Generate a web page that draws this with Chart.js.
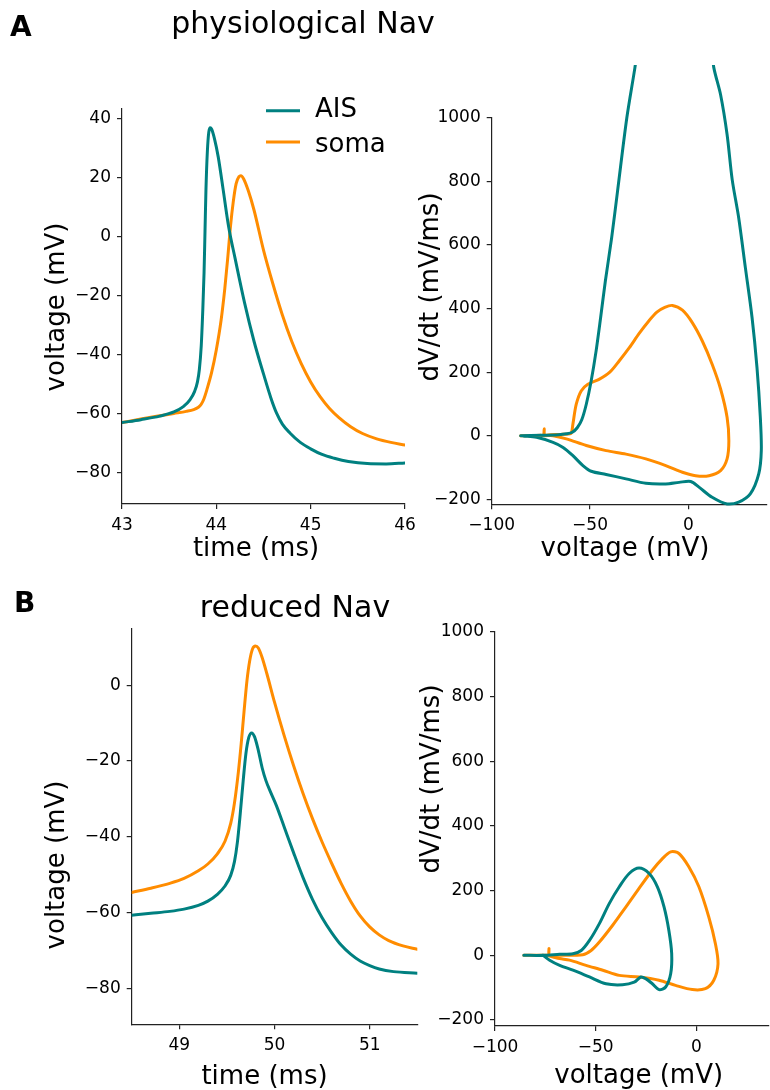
<!DOCTYPE html>
<html><head><meta charset="utf-8">
<script src="https://cdn.jsdelivr.net/npm/chart.js@4/dist/chart.umd.min.js"></script>
<style>
html,body{margin:0;padding:0;background:#fff;}
#wrap{position:relative;width:770px;height:1090px;overflow:hidden;background:#fff;}
canvas{position:absolute;left:0;top:0;}
</style></head><body><div id="wrap">
<canvas id="cA1" width="770" height="1090"></canvas>
<canvas id="cA2" width="770" height="1090"></canvas>
<canvas id="cB1" width="770" height="1090"></canvas>
<canvas id="cB2" width="770" height="1090"></canvas>
</div>
<script>
const TEAL = '#008080', ORANGE = '#ff8c00';
const SERIES = ['AIS', 'soma'];

// ---- Panel A, voltage vs time ----
const A_AIS_T  = [43.0,43.2,43.4,43.55,43.65,43.72,43.77,43.80,43.82,43.84,43.855,43.87,43.88,43.89,43.905,43.92,43.935,43.95,43.98,44.02,44.07,44.13,44.2,44.3,44.4,44.5,44.58,44.64,44.7,44.78,44.89,45.0,45.12,45.25,45.4,45.6,45.8,46.0];
const A_AIS_V  = [-63.0,-62.0,-60.8,-59.4,-57.6,-55.3,-52.4,-49.2,-45.0,-37.0,-26,-12,2,16,29,35.5,37.0,36.5,33.3,27.1,16.5,3.5,-7.5,-22.5,-35.5,-46.5,-54.8,-59.9,-63.5,-66.5,-69.7,-71.9,-73.8,-75.1,-76.2,-76.9,-77.0,-76.7];
const A_SOMA_T = [43.0,43.2,43.4,43.55,43.68,43.76,43.81,43.84,43.87,43.9,43.95,44.0,44.05,44.09,44.12,44.15,44.18,44.21,44.24,44.26,44.29,44.34,44.40,44.5,44.6,44.7,44.8,44.9,45.0,45.1,45.2,45.3,45.42,45.55,45.7,45.85,46.0];
const A_SOMA_V = [-63,-61.8,-60.7,-59.9,-59.2,-58.6,-57.8,-56.8,-54.8,-51.8,-46.0,-38.3,-28.4,-17.5,-7.5,3.5,12.0,18.0,20.4,20.7,19.6,15.5,9.0,-4.5,-16.0,-26.5,-35.5,-43.0,-49.2,-54.2,-58.2,-61.3,-64.3,-66.7,-68.5,-69.7,-70.6];

// ---- Panel A, phase plot (dV/dt vs V) ----
const A_AIS_PV  = [-85.3,-75,-66,-62,-59,-56.5,-54.2,-51.9,-49.4,-46.9,-44.6,-42.2,-39.0,-36.0,-31.3,-27.2,-25.5,-6,11.5,13.0,16.4,19.7,22.3,25.6,29.0,32.4,34.9,36.6,37.1,35.8,31.5,25.6,19.7,12.1,5.4,1.2,-4.7,-11.5,-21.6,-31.7,-41.8,-49.4,-53.6,-58.7,-63.7,-68.8,-77.2,-84];
const A_AIS_DV  = [0,1,3,6,11,25,50,99,173,267,372,487,623,770,1000,1157,1230,1800,1230,1157,1073,948,806,686,529,372,215,58,-47,-120,-183,-209,-215,-194,-162,-144,-147,-152,-150,-136,-122,-112,-94,-63,-37,-21,-5,-1];
const A_SOMA_PV = [-85.3,-80,-75,-73.6,-73.3,-73.0,-70,-65,-61,-59.5,-58.7,-57.0,-54.5,-51.1,-45.2,-40.1,-35.1,-30.0,-25.0,-20.0,-16.0,-12.0,-8.1,-3.0,2.0,7.1,12.1,16.4,19.7,20.6,19.7,16.4,10.5,3.7,-3.0,-11.5,-21.6,-31.7,-41.8,-51.9,-62,-68.8,-73];
const A_SOMA_DV = [0,0,1,2,22,2,3,4,5,8,37,99,141,162,178,199,236,277,322,362,389,404,410,395,356,298,225,147,58,-16,-73,-110,-126,-126,-115,-94,-73,-58,-47,-31,-10,0,0];

// ---- Panel B, voltage vs time ----
const B_AIS_T  = [48.5,48.7,48.9,49.05,49.2,49.3,49.4,49.48,49.54,49.58,49.61,49.64,49.67,49.70,49.73,49.76,49.79,49.83,49.87,49.91,49.96,50.02,50.1,50.2,50.3,50.4,50.5,50.6,50.7,50.8,50.9,51.0,51.1,51.25,51.5];
const B_AIS_V  = [-60.7,-60.2,-59.7,-59.1,-58.1,-57.0,-55.2,-53.0,-50.2,-46.5,-41.5,-34.0,-25.5,-18.0,-13.8,-12.6,-13.6,-17.2,-21.8,-25.2,-28.3,-31.8,-37.3,-44.2,-50.8,-56.6,-61.4,-65.3,-68.6,-71.0,-72.8,-74.0,-74.9,-75.6,-76.0];
const B_SOMA_T = [48.5,48.7,48.9,49.05,49.2,49.3,49.4,49.48,49.54,49.58,49.62,49.65,49.68,49.71,49.74,49.77,49.80,49.83,49.87,49.92,50.0,50.1,50.2,50.3,50.4,50.5,50.6,50.7,50.8,50.9,51.0,51.1,51.2,51.35,51.5];
const B_SOMA_V = [-54.7,-53.6,-52.3,-51.0,-49.0,-47.2,-44.5,-41.2,-36.5,-31.0,-23.0,-15.5,-7.0,1.0,6.5,9.6,10.3,9.8,7.3,3.0,-4.5,-13.2,-21.2,-28.6,-35.3,-41.4,-47.0,-52.3,-57.0,-60.9,-63.8,-65.9,-67.4,-68.8,-69.7];

// ---- Panel B, phase plot ----
const B_AIS_PV  = [-85.7,-76.2,-67.9,-61.3,-57.2,-53.1,-48.2,-43.3,-38.3,-33.4,-28.5,-23.5,-19.4,-16.1,-13.7,-12.3,-12.8,-15.3,-18.6,-21.9,-25.2,-27.6,-30.9,-36.7,-44.9,-53.1,-61.3,-67.9,-72.9,-76.2];
const B_AIS_DV  = [0,0,3,5,15,46,98,160,212,253,270,253,212,150,77,5,-57,-98,-106,-88,-72,-67,-83,-91,-88,-67,-46,-31,-15,0];
const B_SOMA_PV = [-85.7,-74.5,-73.4,-73.2,-73.0,-67.9,-56.4,-52.3,-48.2,-41.6,-35.0,-28.5,-21.9,-16.9,-12.8,-8.7,-3.8,1.2,6.1,9.4,10.7,8.6,4.4,-2.1,-10.4,-18.6,-28.5,-38.3,-46.5,-54.8,-63.0,-67.9,-71.2,-74.5];
const B_SOMA_DV = [0,0,1,21,1,0,2,15,41,93,150,207,263,299,320,315,274,212,119,36,-26,-77,-103,-106,-93,-77,-67,-62,-46,-31,-15,-10,-5,0];

// ---- axes ranges and ticks ----
const A_T_RANGE = [43, 46],   A_T_TICKS = [43, 44, 45, 46];
const A_V_RANGE = [-90.6, 43.5], A_V_TICKS = [-80, -60, -40, -20, 0, 20, 40];
const A_PV_RANGE = [-100, 40], PV_TICKS = [-100, -50, 0];
const A_DV_RANGE = [-216, 1000], DV_TICKS = [-200, 0, 200, 400, 600, 800, 1000];
const B_T_RANGE = [48.5, 51.5], B_T_TICKS = [49, 50, 51];
const B_V_RANGE = [-89.5, 15], B_V_TICKS = [-80, -60, -40, -20, 0];
const B_PV_RANGE = [-100, 36];
const B_DV_RANGE = [-218.6, 1000];

const FONT = '"DejaVu Sans", "Liberation Sans", sans-serif';
const fmt = v => (v < 0 ? '\u2212' + Math.abs(v) : String(v));
function pts(xs, ys) { return xs.map((x, i) => ({x: x, y: ys[i]})); }

function drawText(ctx, it) {
  ctx.save();
  ctx.font = (it.bold ? 'bold ' : '') + it.size + 'px ' + FONT;
  ctx.fillStyle = '#000';
  ctx.textAlign = it.align || 'center';
  ctx.textBaseline = 'alphabetic';
  ctx.translate(it.x, it.y);
  if (it.rot) ctx.rotate(it.rot);
  ctx.fillText(it.t, 0, 0);
  ctx.restore();
}

function scaleOpts(range, ticks, fitFn) {
  return {
    type: 'linear', min: range[0], max: range[1],
    afterBuildTicks: s => { s.ticks = ticks.map(v => ({value: v})); },
    afterFit: fitFn,
    grid: {display: true, drawOnChartArea: false, drawTicks: true, tickLength: 5, color: '#222', lineWidth: 1.2},
    border: {display: true, color: '#222', width: 1.2},
    ticks: {callback: v => fmt(v), font: {family: FONT, size: 17}, color: '#000', padding: 6, maxRotation: 0, autoSkip: false}
  };
}

function line(label, data, color, extra) {
  return Object.assign({label: label, data: data, showLine: true, borderColor: color, backgroundColor: color,
    borderWidth: 3, pointRadius: 0, fill: false, tension: 0.3, borderJoinStyle: 'round', borderCapStyle: 'round'}, extra || {});
}

function makeChart(id, area, xr, xt, yr, yt, datasets, texts, extraDraw) {
  new Chart(document.getElementById(id), {
    type: 'scatter',
    data: {datasets: datasets},
    options: {
      responsive: false, animation: false, events: [],
      layout: {padding: {left: 0, top: area.top, right: 770 - area.right, bottom: 0}},
      plugins: {legend: {display: false}, tooltip: {enabled: false}, title: {display: false}},
      scales: {
        x: scaleOpts(xr, xt, s => { s.height = 1090 - area.bottom; }),
        y: scaleOpts(yr, yt, s => { s.width = area.left; })
      }
    },
    plugins: [{
      id: 'txt' + id,
      afterDraw(chart) {
        const ctx = chart.ctx;
        texts.forEach(t => drawText(ctx, t));
        if (extraDraw) extraDraw(chart);
      }
    }]
  });
}

const ROT = -Math.PI / 2;

// Panel A left
makeChart('cA1', {left: 122, right: 405, top: 108.5, bottom: 504}, A_T_RANGE, A_T_TICKS, A_V_RANGE, A_V_TICKS,
  [line(SERIES[0], pts(A_AIS_T, A_AIS_V), TEAL, {cubicInterpolationMode: 'monotone'}),
   line(SERIES[1], pts(A_SOMA_T, A_SOMA_V), ORANGE, {cubicInterpolationMode: 'monotone'})],
  [{t: 'A', x: 10, y: 36, size: 28, bold: true, align: 'left'},
   {t: 'physiological Nav', x: 303, y: 33, size: 30},
   {t: 'time (ms)', x: 256, y: 556, size: 26},
   {t: 'voltage (mV)', x: 64, y: 307, size: 26, rot: ROT}],
  chart => {
    const ctx = chart.ctx;
    const ys = [110.7, 142], bys = [117, 152];
    chart.data.datasets.forEach((ds, i) => {
      ctx.save();
      ctx.strokeStyle = ds.borderColor; ctx.lineWidth = 3;
      ctx.beginPath(); ctx.moveTo(266, ys[i]); ctx.lineTo(300, ys[i]); ctx.stroke();
      ctx.restore();
      drawText(ctx, {t: ds.label, x: 315, y: bys[i], size: 26, align: 'left'});
    });
  });

// Panel A right
makeChart('cA2', {left: 491.7, right: 767, top: 118, bottom: 504.3}, A_PV_RANGE, PV_TICKS, A_DV_RANGE, DV_TICKS,
  [line(SERIES[0], pts(A_AIS_PV, A_AIS_DV), TEAL, {clip: {left: 3, top: 53, right: 3, bottom: 3}}),
   line(SERIES[1], pts(A_SOMA_PV, A_SOMA_DV), ORANGE, {clip: {left: 3, top: 53, right: 3, bottom: 3}})],
  [{t: 'voltage (mV)', x: 625, y: 556, size: 26},
   {t: 'dV/dt (mV/ms)', x: 438, y: 287, size: 26, rot: ROT}]);

// Panel B left
makeChart('cB1', {left: 131.7, right: 417.3, top: 628.3, bottom: 1024.3}, B_T_RANGE, B_T_TICKS, B_V_RANGE, B_V_TICKS,
  [line(SERIES[0], pts(B_AIS_T, B_AIS_V), TEAL, {cubicInterpolationMode: 'monotone'}),
   line(SERIES[1], pts(B_SOMA_T, B_SOMA_V), ORANGE, {cubicInterpolationMode: 'monotone'})],
  [{t: 'B', x: 14, y: 612, size: 28, bold: true, align: 'left'},
   {t: 'reduced Nav', x: 295, y: 617, size: 30},
   {t: 'time (ms)', x: 264.5, y: 1084, size: 26},
   {t: 'voltage (mV)', x: 64, y: 865, size: 26, rot: ROT}]);

// Panel B right
makeChart('cB2', {left: 495, right: 769, top: 632, bottom: 1026}, B_PV_RANGE, PV_TICKS, B_DV_RANGE, DV_TICKS,
  [line(SERIES[0], pts(B_AIS_PV, B_AIS_DV), TEAL, {clip: {left: 3, top: 3, right: 3, bottom: 3}}),
   line(SERIES[1], pts(B_SOMA_PV, B_SOMA_DV), ORANGE, {clip: {left: 3, top: 3, right: 3, bottom: 3}})],
  [{t: 'voltage (mV)', x: 638.7, y: 1083, size: 26},
   {t: 'dV/dt (mV/ms)', x: 439, y: 779, size: 26, rot: ROT}]);
</script>
</body></html>
